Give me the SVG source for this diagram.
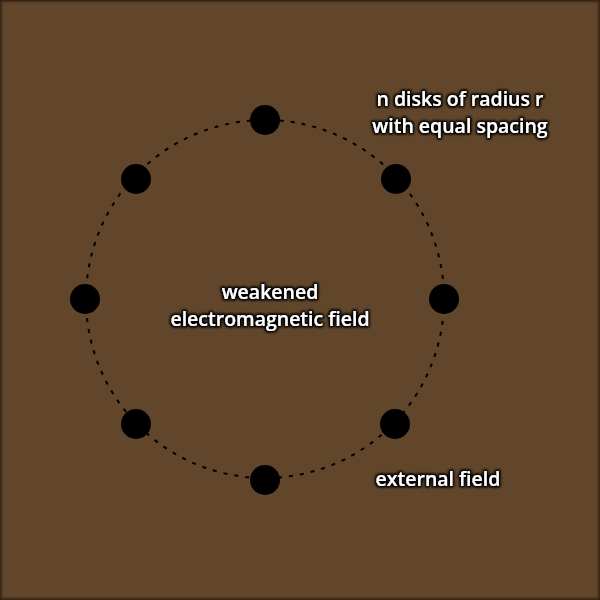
<svg xmlns="http://www.w3.org/2000/svg" width="600" height="600" viewBox="0 0 600 600">
<defs>
<style>
.lbl{font-family:"Open Sans","Liberation Sans",sans-serif;font-size:19.5px;font-weight:600;fill:#ffffff;text-anchor:middle;filter:url(#halo)}
.disk{fill:#000000}
.ring{fill:none;stroke:#000000;stroke-width:2;stroke-dasharray:4 7}
</style>
<filter id="halo" x="-20%" y="-40%" width="140%" height="180%">
<feMorphology in="SourceAlpha" operator="dilate" radius="1.3" result="d"/>
<feGaussianBlur in="d" stdDeviation="1.7" result="b"/>
<feFlood flood-color="#000000"/>
<feComposite in2="b" operator="in" result="s"/>
<feMerge><feMergeNode in="s"/><feMergeNode in="s"/><feMergeNode in="SourceGraphic"/></feMerge>
</filter>
<linearGradient id="gl" x1="0" x2="1" y1="0" y2="0"><stop offset="0" stop-color="#2a1d10"/><stop offset="1" stop-color="#62462b" stop-opacity="0"/></linearGradient>
<linearGradient id="gr" x1="1" x2="0" y1="0" y2="0"><stop offset="0" stop-color="#2a1d10"/><stop offset="1" stop-color="#62462b" stop-opacity="0"/></linearGradient>
<linearGradient id="gt" x1="0" x2="0" y1="0" y2="1"><stop offset="0" stop-color="#2a1d10"/><stop offset="1" stop-color="#62462b" stop-opacity="0"/></linearGradient>
<linearGradient id="gb" x1="0" x2="0" y1="1" y2="0"><stop offset="0" stop-color="#2a1d10"/><stop offset="1" stop-color="#62462b" stop-opacity="0"/></linearGradient>
</defs>
<rect width="600" height="600" fill="#62462b"/>
<rect x="0" y="0" width="5" height="600" fill="url(#gl)"/>
<rect x="595" y="0" width="5" height="600" fill="url(#gr)"/>
<rect x="0" y="0" width="600" height="5" fill="url(#gt)"/>
<rect x="0" y="595" width="600" height="5" fill="url(#gb)"/>
<g id="connectors">
<circle class="ring" cx="265" cy="299" r="179"/>
</g>
<g id="disk-top"><circle class="disk" cx="265" cy="120" r="15"/></g>
<g id="disk-top-right"><circle class="disk" cx="396" cy="179" r="15"/></g>
<g id="disk-right"><circle class="disk" cx="444" cy="299" r="15"/></g>
<g id="disk-bottom-right"><circle class="disk" cx="395" cy="424" r="15"/></g>
<g id="disk-bottom"><circle class="disk" cx="265" cy="480" r="15"/></g>
<g id="disk-bottom-left"><circle class="disk" cx="136" cy="424" r="15"/></g>
<g id="disk-left"><circle class="disk" cx="85" cy="299" r="15"/></g>
<g id="disk-top-left"><circle class="disk" cx="136" cy="179" r="15"/></g>
<g id="label-disks">
<text class="lbl" x="460" y="106">n disks of radius r</text>
<text class="lbl" x="460" y="133">with equal spacing</text>
</g>
<g id="label-weakened">
<text class="lbl" x="270" y="299">weakened</text>
<text class="lbl" x="270" y="326">electromagnetic field</text>
</g>
<g id="label-external">
<text class="lbl" x="438" y="486">external field</text>
</g>
</svg>
